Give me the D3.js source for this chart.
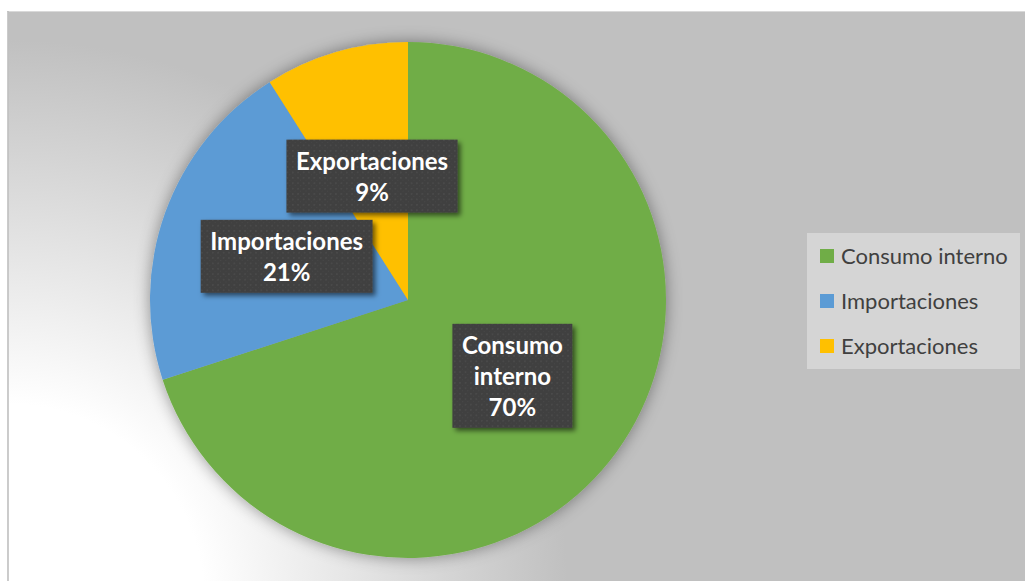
<!DOCTYPE html>
<html>
<head>
<meta charset="utf-8">
<script src="https://cdn.jsdelivr.net/npm/d3@7"></script>
<style>
  html, body { margin: 0; padding: 0; background: #fff; }
  svg { display: block; }
</style>
</head>
<body>
<script>
const w = 1025;
const h = 581;

// data
const categories = ["Consumo interno", "Importaciones", "Exportaciones"];
const values = [70, 21, 9];
const percentLabels = ["70%", "21%", "9%"];
const labelLines = [["Consumo", "interno"], ["Importaciones"], ["Exportaciones"]];
const colors = ["#70ad47", "#5b9bd5", "#ffc000"];

const cx = 408, cy = 300, radius = 258;

const svg = d3.select("body").append("svg")
  .attr("width", w)
  .attr("height", h);

const defs = svg.append("defs");

// background gradient, white in lower left going to grey
const bg = defs.append("radialGradient")
  .attr("id", "bg")
  .attr("gradientUnits", "userSpaceOnUse")
  .attr("cx", 8).attr("cy", 600).attr("r", 560);
bg.append("stop").attr("offset", 0).attr("stop-color", "#ffffff");
bg.append("stop").attr("offset", 0.35).attr("stop-color", "#ffffff");
bg.append("stop").attr("offset", 1).attr("stop-color", "#c0c0c0");

// soft halo around the pie
const pieShadow = defs.append("filter")
  .attr("id", "pieShadow")
  .attr("x", "-20%").attr("y", "-20%").attr("width", "140%").attr("height", "140%");
pieShadow.append("feDropShadow")
  .attr("dx", 0).attr("dy", 0)
  .attr("stdDeviation", 8)
  .attr("flood-color", "#000")
  .attr("flood-opacity", 0.4);

// label box shadow
const boxShadow = defs.append("filter")
  .attr("id", "boxShadow")
  .attr("x", "-20%").attr("y", "-20%").attr("width", "140%").attr("height", "140%");
boxShadow.append("feDropShadow")
  .attr("dx", 3).attr("dy", 3)
  .attr("stdDeviation", 2.5)
  .attr("flood-color", "#000")
  .attr("flood-opacity", 0.55);

// dotted texture of the label boxes
const pat = defs.append("pattern")
  .attr("id", "dots")
  .attr("patternUnits", "userSpaceOnUse")
  .attr("width", 5.4).attr("height", 5.4);
pat.append("rect").attr("width", 5.4).attr("height", 5.4).attr("fill", "#404040");
pat.append("rect").attr("x", 1).attr("y", 1).attr("width", 1.4).attr("height", 1.4).attr("fill", "#4e4e4e");
pat.append("rect").attr("x", 3.7).attr("y", 3.7).attr("width", 1).attr("height", 1).attr("fill", "#484848");

// chart area
svg.append("rect")
  .attr("x", 8).attr("y", 12)
  .attr("width", w - 8).attr("height", h - 12)
  .attr("fill", "url(#bg)");
svg.append("line")
  .attr("x1", 7).attr("x2", w).attr("y1", 11.5).attr("y2", 11.5)
  .attr("stroke", "#d9d9d9").attr("stroke-width", 1);
svg.append("line")
  .attr("x1", 8).attr("x2", 8).attr("y1", 11).attr("y2", h)
  .attr("stroke", "#bfbfbf").attr("stroke-width", 1.6);

// pie
const pie = d3.pie().sort(null).value(d => d.value);
const arcs = pie(categories.map((c, i) => ({ name: c, value: values[i], i: i })));
const arc = d3.arc().innerRadius(0).outerRadius(radius);

const gPie = svg.append("g")
  .attr("transform", `translate(${cx},${cy})`);

gPie.append("g")
  .attr("filter", "url(#pieShadow)")
  .selectAll("path")
  .data(arcs)
  .enter()
  .append("path")
  .attr("d", arc)
  .attr("fill", d => colors[d.data.i]);

// data labels
const fontFamily = "Lato, 'Open Sans', sans-serif";
const lineH = 31;
const gLabels = gPie.append("g");

arcs.forEach(d => {
  const lines = labelLines[d.data.i].concat([percentLabels[d.data.i]]);
  const c = arc.centroid(d);
  const g = gLabels.append("g").attr("transform", `translate(${c[0]},${c[1]})`);
  const box = g.append("rect").attr("fill", "url(#dots)").attr("filter", "url(#boxShadow)");
  const text = g.append("text")
    .attr("text-anchor", "middle")
    .attr("font-family", fontFamily)
    .attr("font-weight", "bold")
    .attr("font-size", 24)
    .attr("fill", "#ffffff");
  const top = -lines.length * lineH / 2;
  lines.forEach((t, k) => {
    text.append("tspan")
      .attr("x", 0)
      .attr("y", top + (k + 1) * lineH - 6.5)
      .text(t);
  });
  const bb = text.node().getBBox();
  const bw = bb.width + 19;
  const bh = lines.length * lineH + 11;
  box.attr("x", -bw / 2).attr("y", -bh / 2).attr("width", bw).attr("height", bh);
});

// legend
const legendY = d3.scalePoint()
  .domain(categories)
  .range([256, 346]);

const gLegend = svg.append("g");
gLegend.append("rect")
  .attr("x", 807).attr("y", 233)
  .attr("width", 213).attr("height", 136)
  .attr("fill", "#d5d5d5");

const items = gLegend.selectAll("g.item")
  .data(categories)
  .enter()
  .append("g")
  .attr("class", "item")
  .attr("transform", d => `translate(820,${legendY(d)})`);

items.append("rect")
  .attr("x", 0).attr("y", -7)
  .attr("width", 14).attr("height", 14)
  .attr("fill", (d, i) => colors[i]);

items.append("text")
  .attr("x", 21)
  .attr("y", 7.5)
  .attr("font-family", fontFamily)
  .attr("font-size", 22)
  .attr("fill", "#404040")
  .text(d => d);
</script>
</body>
</html>
